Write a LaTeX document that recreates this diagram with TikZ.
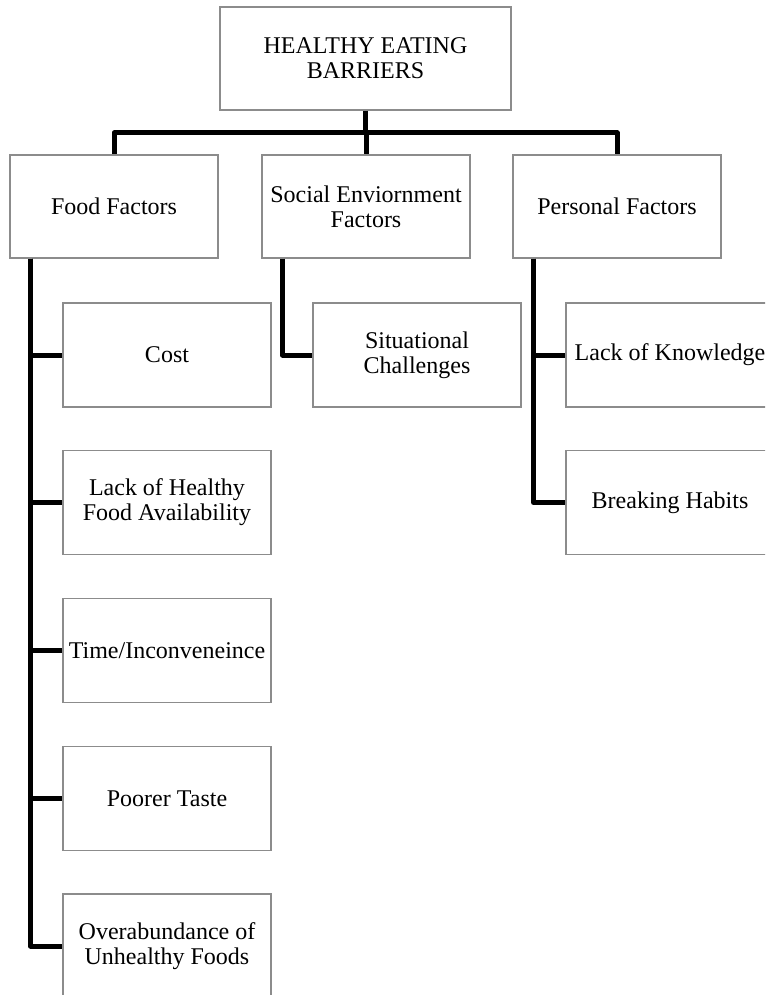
\documentclass[tikz,border=0pt]{standalone}
\usepackage{fontspec}
\setmainfont{Liberation Serif}
\begin{document}
\begin{tikzpicture}[x=1pt,y=-1pt,
  box/.style={draw=black!45,line width=1.1pt,fill=white,align=center,
    inner sep=0pt,font=\fontsize{24}{25}\selectfont},
  topbox/.style={box,minimum width=291pt,minimum height=103pt},
  catbox/.style={box,minimum width=208pt,minimum height=103pt},
  itembox/.style={box,minimum width=208pt,minimum height=104pt},
  conn/.style={line width=5pt,line join=round,line cap=butt}]
\useasboundingbox (0,0) rectangle (765,995);
\clip (0,0) rectangle (765,995);

% root and categories
\node[topbox] (root) at (365.5,58.5) {HEALTHY EATING\\BARRIERS};
\node[catbox] (food) at (114,206.5) {Food Factors};
\node[catbox] (social) at (366,206.5) {Social Enviornment\\Factors};
\node[catbox] (personal) at (617,206.5) {Personal Factors};

% food factor items
\node[itembox] (cost) at (167,355) {Cost};
\node[itembox] (avail) at (167,502.5) {Lack of Healthy\\Food Availability};
\node[itembox] (time) at (167,650.5) {Time/Inconveneince};
\node[itembox] (taste) at (167,798.5) {Poorer Taste};
\node[itembox] (over) at (167,946) {Overabundance of\\Unhealthy Foods};

% social environment item
\node[itembox] (situ) at (417,355) {Situational\\Challenges};

% personal items
\node[itembox] (know) at (670,355) {Lack of Knowledge};
\node[itembox] (habit) at (670,502.5) {Breaking Habits};

% top-level bus
\coordinate (bus) at (root.south |- 0,133);
\draw[conn] (root.south) -- (bus);
\draw[conn] (bus) -| (food.north);
\draw[conn] (bus) -| (personal.north);
\draw[conn] (bus) -- (bus -| social.north) -- (social.north);

% stems under the categories
\coordinate (fstem) at ([xshift=21pt]food.south west);
\coordinate (sstem) at ([xshift=21pt]social.south west);
\coordinate (pstem) at ([xshift=21pt]personal.south west);

\draw[conn] (fstem) |- (over.west);
\draw[conn] (fstem) |- (cost.west);
\draw[conn] (fstem) |- (avail.west);
\draw[conn] (fstem) |- (time.west);
\draw[conn] (fstem) |- (taste.west);

\draw[conn] (sstem) |- (situ.west);

\draw[conn] (pstem) |- (habit.west);
\draw[conn] (pstem) |- (know.west);
\end{tikzpicture}
\end{document}
